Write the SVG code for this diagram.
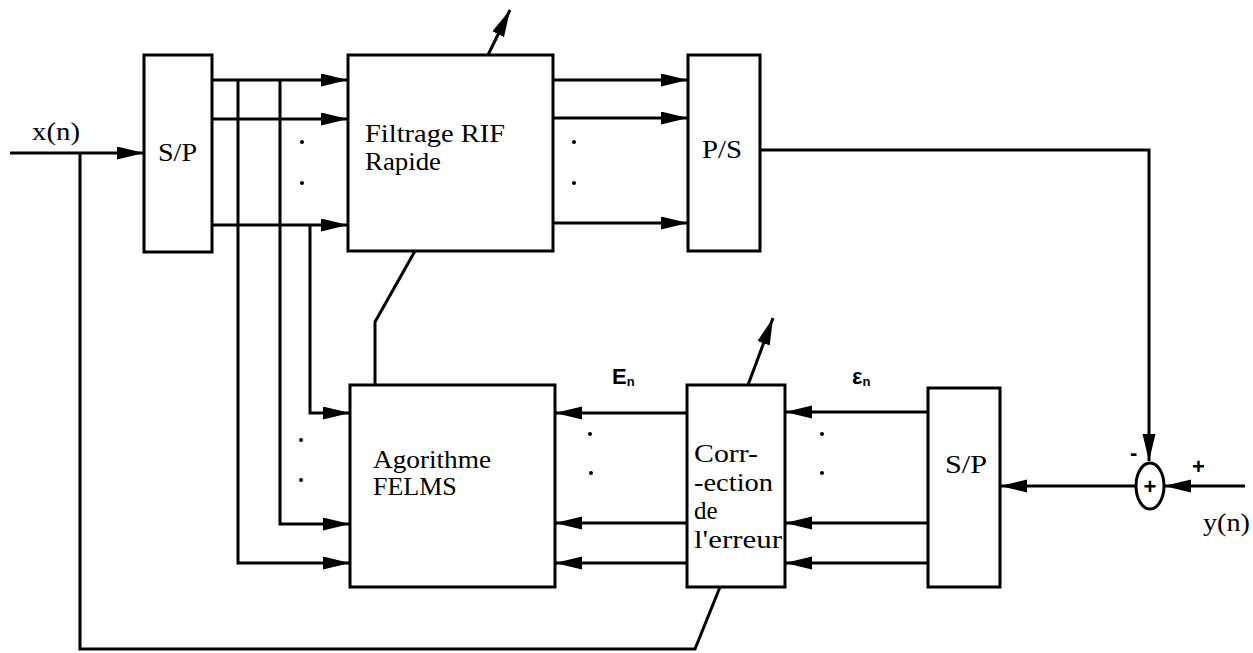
<svg xmlns="http://www.w3.org/2000/svg" width="1253" height="653" viewBox="0 0 1253 653">
<style>
  .box{fill:#fff;stroke:#000;stroke-width:3}
  .ln{fill:none;stroke:#000;stroke-width:3;stroke-linejoin:miter}
  .arr{marker-end:url(#ah)}
  .t{font-family:"Liberation Serif","Times New Roman",serif;font-size:26px;fill:#000}
  .c{font-family:"Liberation Serif","Times New Roman",serif;font-size:25px;fill:#000}
  .s{font-family:"Liberation Sans",Arial,sans-serif;font-size:22px;fill:#000;font-weight:bold}
  .dot{fill:#000}
</style>
<defs>
  <marker id="ah" markerUnits="userSpaceOnUse" markerWidth="28" markerHeight="14" refX="27" refY="6.5" orient="auto">
    <path d="M0,0 L27,6.5 L0,13 z" fill="#000"/>
  </marker>
</defs>
<rect width="1253" height="653" fill="#fff"/>

<g id="connectors">
  <!-- x(n) input -->
  <line class="ln arr" x1="10" y1="153" x2="144" y2="153"/>
  <!-- x(n) feedback to correction -->
  <polyline class="ln" points="80,153 80,649 695,649 720,587"/>
  <!-- S/P outputs to filter -->
  <line class="ln arr" x1="212" y1="80" x2="348" y2="80"/>
  <line class="ln arr" x1="212" y1="119" x2="348" y2="119"/>
  <line class="ln arr" x1="212" y1="225" x2="348" y2="225"/>
  <!-- taps down to FELMS -->
  <polyline class="ln arr" points="238,80 238,563 350,563"/>
  <polyline class="ln arr" points="280,80 280,524 350,524"/>
  <polyline class="ln arr" points="310,225 310,413 350,413"/>
  <!-- filter outputs to P/S -->
  <line class="ln arr" x1="553" y1="80" x2="688" y2="80"/>
  <line class="ln arr" x1="553" y1="118" x2="688" y2="118"/>
  <line class="ln arr" x1="553" y1="223" x2="688" y2="223"/>
  <!-- P/S output to summation -->
  <polyline class="ln arr" points="760,150 1149,150 1149,461"/>
  <!-- adjust arrow on filter -->
  <line class="ln arr" x1="488" y1="55" x2="510" y2="10"/>
  <!-- FELMS to filter -->
  <polyline class="ln" points="375,385 375,322 415,251"/>
  <!-- adjust arrow on correction -->
  <line class="ln arr" x1="748" y1="385" x2="773" y2="318"/>
  <!-- correction to FELMS -->
  <line class="ln arr" x1="687" y1="413" x2="555" y2="413"/>
  <line class="ln arr" x1="687" y1="523" x2="555" y2="523"/>
  <line class="ln arr" x1="687" y1="563" x2="555" y2="563"/>
  <!-- right S/P to correction -->
  <line class="ln arr" x1="928" y1="412" x2="785" y2="412"/>
  <line class="ln arr" x1="928" y1="523" x2="785" y2="523"/>
  <line class="ln arr" x1="928" y1="563" x2="785" y2="563"/>
  <!-- sum to right S/P -->
  <line class="ln arr" x1="1136" y1="486" x2="1000" y2="486"/>
  <!-- y(n) input -->
  <line class="ln arr" x1="1245" y1="486" x2="1164" y2="486"/>
  <!-- dots -->
  <circle class="dot" cx="302" cy="142" r="2"/>
  <circle class="dot" cx="302" cy="183" r="2"/>
  <circle class="dot" cx="574" cy="142" r="2"/>
  <circle class="dot" cx="574" cy="183" r="2"/>
  <circle class="dot" cx="301" cy="440" r="2"/>
  <circle class="dot" cx="301" cy="480" r="2"/>
  <circle class="dot" cx="590" cy="434" r="2"/>
  <circle class="dot" cx="591" cy="473" r="2"/>
  <circle class="dot" cx="822" cy="434" r="2"/>
  <circle class="dot" cx="822" cy="473" r="2"/>
  <!-- labels -->
  <text class="t" x="32" y="140" font-size="25" textLength="48" lengthAdjust="spacingAndGlyphs">x(n)</text>
  <text class="s" x="612" y="384">E<tspan font-size="13" dy="2">n</tspan></text>
  <text class="s" x="852" y="384">ε<tspan font-size="13" dy="2">n</tspan></text>
  <text class="s" x="1130" y="460">-</text>
  <text class="s" x="1192" y="474">+</text>
  <text class="t" x="1203" y="531" font-size="25" textLength="47" lengthAdjust="spacingAndGlyphs">y(n)</text>
</g>

<g id="sp_in">
  <rect class="box" x="144" y="55" width="68" height="197"/>
  <text class="t" x="158" y="161" font-size="24" textLength="39" lengthAdjust="spacingAndGlyphs">S/P</text>
</g>

<g id="filtre">
  <rect class="box" x="348" y="55" width="205" height="196"/>
  <text class="t" x="365" y="142" textLength="140" lengthAdjust="spacingAndGlyphs">Filtrage RIF</text>
  <text class="t" x="365" y="170" textLength="76" lengthAdjust="spacingAndGlyphs">Rapide</text>
</g>

<g id="ps">
  <rect class="box" x="688" y="55" width="72" height="196"/>
  <text class="t" x="702" y="158" font-size="24" textLength="40" lengthAdjust="spacingAndGlyphs">P/S</text>
</g>

<g id="felms">
  <rect class="box" x="350" y="385" width="205" height="202"/>
  <text class="t" x="373" y="468" font-size="27" textLength="118" lengthAdjust="spacingAndGlyphs">Agorithme</text>
  <text class="t" x="373" y="495" font-size="27">FELMS</text>
</g>

<g id="correction">
  <rect class="box" x="687" y="385" width="98" height="202"/>
  <text class="c" x="694" y="462" textLength="64" lengthAdjust="spacingAndGlyphs">Corr-</text>
  <text class="c" x="694" y="491" textLength="79" lengthAdjust="spacingAndGlyphs">-ection</text>
  <text class="c" x="694" y="519">de</text>
  <text class="c" x="694" y="548" textLength="88" lengthAdjust="spacingAndGlyphs">l'erreur</text>
</g>

<g id="sp_out">
  <rect class="box" x="928" y="388" width="72" height="199"/>
  <text class="t" x="945" y="473" font-size="24" textLength="42" lengthAdjust="spacingAndGlyphs">S/P</text>
</g>

<g id="somme">
  <ellipse class="box" cx="1150" cy="486" rx="14" ry="23"/>
  <text class="s" x="1150" y="494" text-anchor="middle">+</text>
</g>
</svg>
